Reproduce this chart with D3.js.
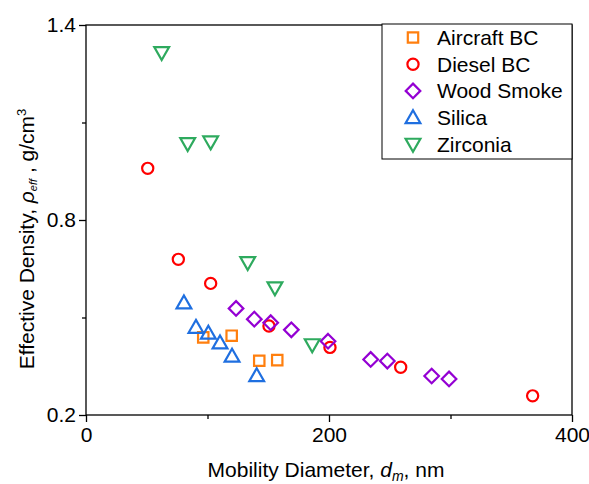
<!DOCTYPE html>
<html>
<head>
<meta charset="utf-8">
<script src="https://cdn.jsdelivr.net/npm/d3@7"></script>
<style>
  body { margin: 0; background: #fff; }
  svg { display: block; font-family: "Liberation Sans", Arial, sans-serif; }
</style>
</head>
<body>
<div class="container"></div>
<script>
// series: mobility diameter (nm) and effective density (g/cm3)
const aircraftX = [96.5, 119.9, 142.6, 157.4];
const aircraftY = [0.439, 0.444, 0.367, 0.369];

const dieselX = [50.8, 76.0, 102.6, 150.6, 200.8, 259.0, 367.6];
const dieselY = [0.959, 0.679, 0.605, 0.474, 0.408, 0.347, 0.259];

const woodX = [123.5, 138.5, 152.0, 169.0, 199.2, 234.3, 248.0, 284.5, 298.8];
const woodY = [0.528, 0.495, 0.484, 0.462, 0.427, 0.371, 0.366, 0.320, 0.311];

const silicaX = [80.6, 90.5, 100.7, 110.3, 120.2, 140.5];
const silicaY = [0.545, 0.470, 0.452, 0.422, 0.381, 0.321];

const zirconiaX = [62.3, 83.7, 102.6, 133.1, 155.5, 186.2];
const zirconiaY = [1.315, 1.035, 1.040, 0.669, 0.591, 0.416];

const seriesNames = ["Aircraft BC", "Diesel BC", "Wood Smoke", "Silica", "Zirconia"];
const xTicks = [0, 200, 400];
const xMinor = [100, 300];
const yTicks = [0.2, 0.8, 1.4];
const yMinor = [0.5, 1.1];

// build a small table from the arrays
const series = [
  { name: seriesNames[0], xs: aircraftX, ys: aircraftY, color: "#ff7f0e", shape: "square" },
  { name: seriesNames[1], xs: dieselX, ys: dieselY, color: "#ff0000", shape: "circle" },
  { name: seriesNames[2], xs: woodX, ys: woodY, color: "#9400d3", shape: "diamond" },
  { name: seriesNames[3], xs: silicaX, ys: silicaY, color: "#1f6fe0", shape: "up" },
  { name: seriesNames[4], xs: zirconiaX, ys: zirconiaY, color: "#2eaa5e", shape: "down" }
];

const W = 589, H = 484;
const margin = { top: 25, right: 17, bottom: 69, left: 86 };
const width = W - margin.left - margin.right;
const height = H - margin.top - margin.bottom;

const svg = d3.select(".container")
  .append("svg")
  .attr("width", W)
  .attr("height", H);

const g = svg.append("g")
  .attr("transform", `translate(${margin.left}, ${margin.top})`);

const xScale = d3.scaleLinear().domain([0, 400]).range([0, width]);
const yScale = d3.scaleLinear().domain([0.2, 1.4]).range([height, 0]);

// marker paths, centered on 0,0
function markerPath(shape) {
  const p = d3.path();
  if (shape === "square") {
    const s = 5.2;
    p.rect(-s, -s, 2 * s, 2 * s);
  } else if (shape === "circle") {
    p.arc(0, 0, 5.6, 0, 2 * Math.PI);
    p.closePath();
  } else if (shape === "diamond") {
    const s = 7.3;
    p.moveTo(0, -s); p.lineTo(s, 0); p.lineTo(0, s); p.lineTo(-s, 0); p.closePath();
  } else if (shape === "up") {
    const s = 7.4;
    p.moveTo(0, -s); p.lineTo(s, s * 0.75); p.lineTo(-s, s * 0.75); p.closePath();
  } else {
    const s = 7.4;
    p.moveTo(0, s); p.lineTo(s, -s * 0.75); p.lineTo(-s, -s * 0.75); p.closePath();
  }
  return p.toString();
}

// axes: majors and minors, ticks pointing outward
const xAxis = d3.axisBottom(xScale).tickValues(xTicks).tickSize(7).tickPadding(5).tickFormat(d3.format("d"));
const xAxisMinor = d3.axisBottom(xScale).tickValues(xMinor).tickSize(4).tickFormat("");
const yAxis = d3.axisLeft(yScale).tickValues(yTicks).tickSize(7).tickPadding(3).tickFormat(d3.format(".1f"));
const yAxisMinor = d3.axisLeft(yScale).tickValues(yMinor).tickSize(4).tickFormat("");

g.append("g").attr("transform", `translate(0, ${height})`).call(xAxisMinor);
g.append("g").attr("transform", `translate(0, ${height})`).call(xAxis);
g.append("g").call(yAxisMinor);
g.append("g").call(yAxis);

g.selectAll(".domain").remove();
g.selectAll(".tick line").attr("stroke", "#000").attr("stroke-width", 1.3);
g.selectAll(".tick text")
  .attr("fill", "#000")
  .style("font-size", "21px")
  .style("font-family", "'Liberation Sans', Arial, sans-serif");

// frame
g.append("rect")
  .attr("x", 0).attr("y", 0)
  .attr("width", width).attr("height", height)
  .attr("fill", "none")
  .attr("stroke", "#000")
  .attr("stroke-width", 1.3);

// points
series.forEach((s) => {
  g.append("g")
    .selectAll("path")
    .data(s.xs.map((x, i) => [x, s.ys[i]]))
    .join("path")
    .attr("d", markerPath(s.shape))
    .attr("transform", (d) => `translate(${xScale(d[0])}, ${yScale(d[1])})`)
    .attr("fill", "none")
    .attr("stroke", s.color)
    .attr("stroke-width", 2.2);
});

// legend
const legend = svg.append("g").attr("transform", "translate(382, 24)");
legend.append("rect")
  .attr("width", 190).attr("height", 135)
  .attr("fill", "#fff")
  .attr("stroke", "#000")
  .attr("stroke-width", 1);

const rows = legend.selectAll("g.row")
  .data(series)
  .join("g")
  .attr("class", "row")
  .attr("transform", (d, i) => `translate(0, ${13.5 + i * 26.7})`);

rows.append("path")
  .attr("d", (d) => markerPath(d.shape))
  .attr("transform", "translate(31, 0)")
  .attr("fill", "none")
  .attr("stroke", (d) => d.color)
  .attr("stroke-width", 2.2);

rows.append("text")
  .attr("x", 55)
  .attr("y", 7.5)
  .style("font-size", "21px")
  .text((d) => d.name);

// axis titles
const xTitle = svg.append("text")
  .attr("x", 326)
  .attr("y", 477)
  .attr("text-anchor", "middle")
  .style("font-size", "21px");
xTitle.append("tspan").text("Mobility Diameter, ");
xTitle.append("tspan").style("font-style", "italic").text("d");
xTitle.append("tspan").style("font-style", "italic").style("font-size", "14px").attr("dy", 4).text("m");
xTitle.append("tspan").attr("dy", -4).text(", nm");

const yTitle = svg.append("text")
  .attr("transform", `translate(34, ${239}) rotate(-90)`)
  .attr("text-anchor", "middle")
  .style("font-size", "21px");
yTitle.append("tspan").text("Effective Density, ");
yTitle.append("tspan").style("font-style", "italic").text("ρ");
yTitle.append("tspan").style("font-style", "italic").style("font-size", "11px").attr("dy", 3).text("eff");
yTitle.append("tspan").attr("dy", -3).text(" , g/cm");
yTitle.append("tspan").style("font-size", "13px").attr("dy", -8).text("3");
</script>
</body>
</html>
